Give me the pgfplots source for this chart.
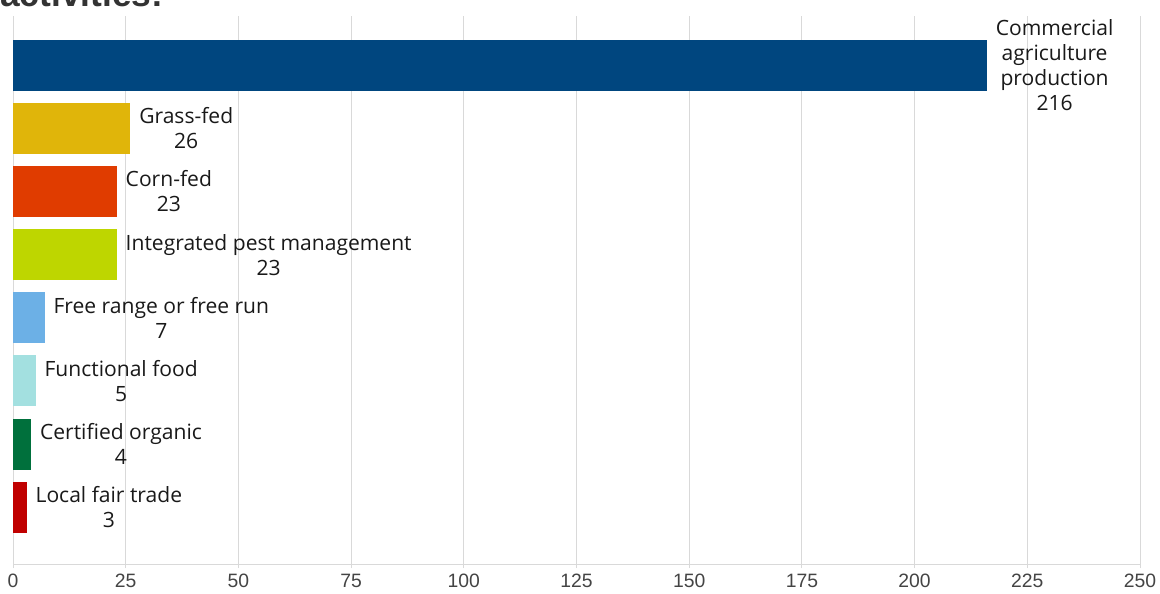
\documentclass[border=0pt]{standalone}
\usepackage{fontspec}
\setmainfont{Open Sans}
\newfontfamily\tickfont{Liberation Sans}
\newfontfamily\titlefont{Liberation Sans}
\usepackage{pgfplots}
\pgfplotsset{compat=1.18}
\definecolor{c1}{RGB}{0,70,127}
\definecolor{c2}{RGB}{224,181,10}
\definecolor{c3}{RGB}{224,60,0}
\definecolor{c4}{RGB}{190,214,0}
\definecolor{c5}{RGB}{108,176,230}
\definecolor{c6}{RGB}{163,224,224}
\definecolor{c7}{RGB}{0,112,60}
\definecolor{c8}{RGB}{192,0,0}
\definecolor{gridc}{RGB}{217,217,217}
\definecolor{tickc}{RGB}{68,68,68}
\begin{document}
\begin{tikzpicture}
\useasboundingbox (0,0) rectangle (870pt,-444.75pt);
\node[anchor=base west,inner sep=0pt,font=\titlefont\bfseries\fontsize{26.5pt}{30pt}\selectfont,text=black!80] at (0pt,-5pt) {activities:};
\begin{axis}[
  at={(9.75pt,-423pt)}, anchor=south west,
  scale only axis, width=845.25pt, height=411pt,
  xbar, bar width=38.25pt, bar shift=0pt,
  xmin=0, xmax=250, ymin=-0.78, ymax=7.9, y dir=reverse,
  xtick={0,25,...,250}, ytick=\empty,
  xmajorgrids, major grid style={gridc, line width=0.75pt},
  axis x line*=bottom, axis y line*=left,
  axis line style={gridc, line width=0.75pt, -},
  tick style={gridc, line width=0.75pt},
  major tick length=3pt, tick align=outside,
  /pgf/number format/assume math mode=true,
  ticklabel style={font=\tickfont\fontsize{14.5pt}{17pt}\selectfont, text=tickc},
  xticklabel style={yshift=-1pt},
  nodes near coords style={anchor=west, align=center, xshift=3.25pt,
    font=\fontsize{15.8pt}{18.75pt}\selectfont, text=black!90},
]
\addplot[fill=c1, draw=none, nodes near coords={Commercial\\agriculture\\production\\216}] coordinates {(216,0)};
\addplot[fill=c2, draw=none, nodes near coords={Grass-fed\\26}] coordinates {(26,1)};
\addplot[fill=c3, draw=none, nodes near coords={Corn-fed\\23}] coordinates {(23,2)};
\addplot[fill=c4, draw=none, nodes near coords={Integrated pest management\\23}] coordinates {(23,3)};
\addplot[fill=c5, draw=none, nodes near coords={Free range or free run\\7}] coordinates {(7,4)};
\addplot[fill=c6, draw=none, nodes near coords={Functional food\\5}] coordinates {(5,5)};
\addplot[fill=c7, draw=none, nodes near coords={Certified organic\\4}] coordinates {(4,6)};
\addplot[fill=c8, draw=none, nodes near coords={Local fair trade\\3}] coordinates {(3,7)};
\end{axis}
\end{tikzpicture}
\end{document}
